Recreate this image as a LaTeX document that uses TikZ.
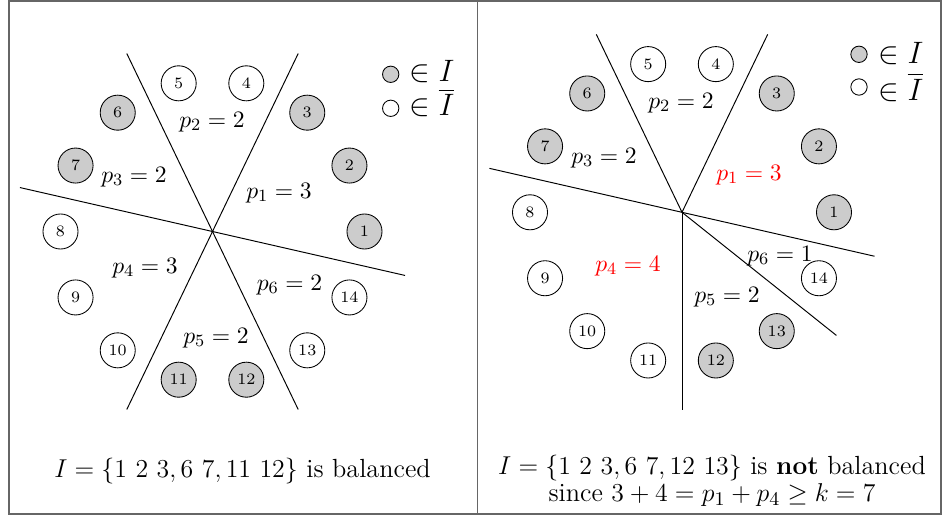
\documentclass[tikz,border=0pt]{standalone}
\usepackage{amssymb}
\usetikzlibrary{calc}
\begin{document}
\begin{tikzpicture}[x=0.465pt,y=-0.465pt,
  pt/.style={circle,draw,minimum size=16.3pt,inner sep=0pt,font=\fontsize{7.4}{8}\selectfont},
  inI/.style={pt,fill=black!20},
  lab/.style={font=\fontsize{11}{13}\selectfont},
  redlab/.style={lab,text=red},
  leg/.style={circle,draw,minimum size=7.6pt,inner sep=0pt},
  legtxt/.style={anchor=base west,inner sep=0pt,font=\fontsize{15}{17}\selectfont},
  frame/.style={draw=black!60,line width=0.6pt},
  cut/.style={line width=0.45pt},
  caption/.style={font=\fontsize{12.2}{12.4}\selectfont,align=center}]
\useasboundingbox (0,0) rectangle (942,519);
\draw[frame] (9,1) rectangle (941,514);
\draw[frame] (477.5,1) -- (477.5,514);

% ---------------- left panel ----------------
\coordinate (L) at (212.5,231.5);
\foreach \a [count=\k] in {-12.857,167.143,64.286,115.714,-64.286,-115.714}
  \path (L) ++(-\a:197.5) coordinate (le\k);
\foreach \k in {1,...,6} \draw[cut] (L) -- (le\k);
\foreach \i in {1,...,14}{
  \pgfmathsetmacro{\ang}{-(\i-1)*360/14}
  \ifnum\i<4 \def\st{inI}\else\ifnum\i<6 \def\st{pt}\else\ifnum\i<8 \def\st{inI}\else\ifnum\i<11 \def\st{pt}\else\ifnum\i<13 \def\st{inI}\else\def\st{pt}\fi\fi\fi\fi\fi
  \node[\st] (l\i) at ($(L)+(\ang:152)$) {\i};
}
\node[lab] (lp1) at (279,193) {$p_1=3$};
\node[lab] (lp2) at (212,122) {$p_2=2$};
\node[lab] (lp3) at (134,177) {$p_3=2$};
\node[lab] (lp4) at (145,268) {$p_4=3$};
\node[lab] (lp5) at (216,338) {$p_5=2$};
\node[lab] (lp6) at (289.5,285) {$p_6=2$};
\node[leg,fill=black!20] (lla) at (390.7,74.3) {};
\node[leg] (llb) at (390.7,108.3) {};
\node[legtxt] (llta) at (409,81.5) {$\in I$};
\node[legtxt] (lltb) at (409,116) {$\in \overline{I}$};
\node[caption,anchor=base] (lcap) at (242.5,477.7) {$I=\{1~2~3, 6~7, 11~12\}$ is balanced};

% ---------------- right panel ----------------
\coordinate (R) at (682,212.3);
\foreach \a [count=\k] in {64.286,115.714,167.143,-12.857,-38.571,-90}
  \path (R) ++(-\a:197.5) coordinate (re\k);
\foreach \k in {1,...,6} \draw[cut] (R) -- (re\k);
\foreach \i in {1,...,14}{
  \pgfmathsetmacro{\ang}{-(\i-1)*360/14}
  \ifnum\i<4 \def\st{inI}\else\ifnum\i<6 \def\st{pt}\else\ifnum\i<8 \def\st{inI}\else\ifnum\i<12 \def\st{pt}\else\ifnum\i<14 \def\st{inI}\else\def\st{pt}\fi\fi\fi\fi\fi
  \node[\st] (r\i) at ($(R)+(\ang:152)$) {\i};
}
\node[redlab] (rp1) at (749,175) {$p_1=3$};
\node[lab] (rp2) at (681,103) {$p_2=2$};
\node[lab] (rp3) at (604,158) {$p_3=2$};
\node[redlab] (rp4) at (628,266) {$p_4=4$};
\node[lab] (rp5) at (727,297) {$p_5=2$};
\node[lab] (rp6) at (780,256) {$p_6=1$};
\node[leg,fill=black!20] (rla) at (859,54.3) {};
\node[leg] (rlb) at (859,87) {};
\node[legtxt] (rlta) at (878,63.3) {$\in I$};
\node[legtxt] (rltb) at (878,100) {$\in \overline{I}$};
\node[caption] (rcap) at (712,481) {$I=\{1~2~3, 6~7, 12~13\}$ is \textbf{not} balanced\\ since $3+4=p_1+p_4\geq k=7$};
\end{tikzpicture}
\end{document}
